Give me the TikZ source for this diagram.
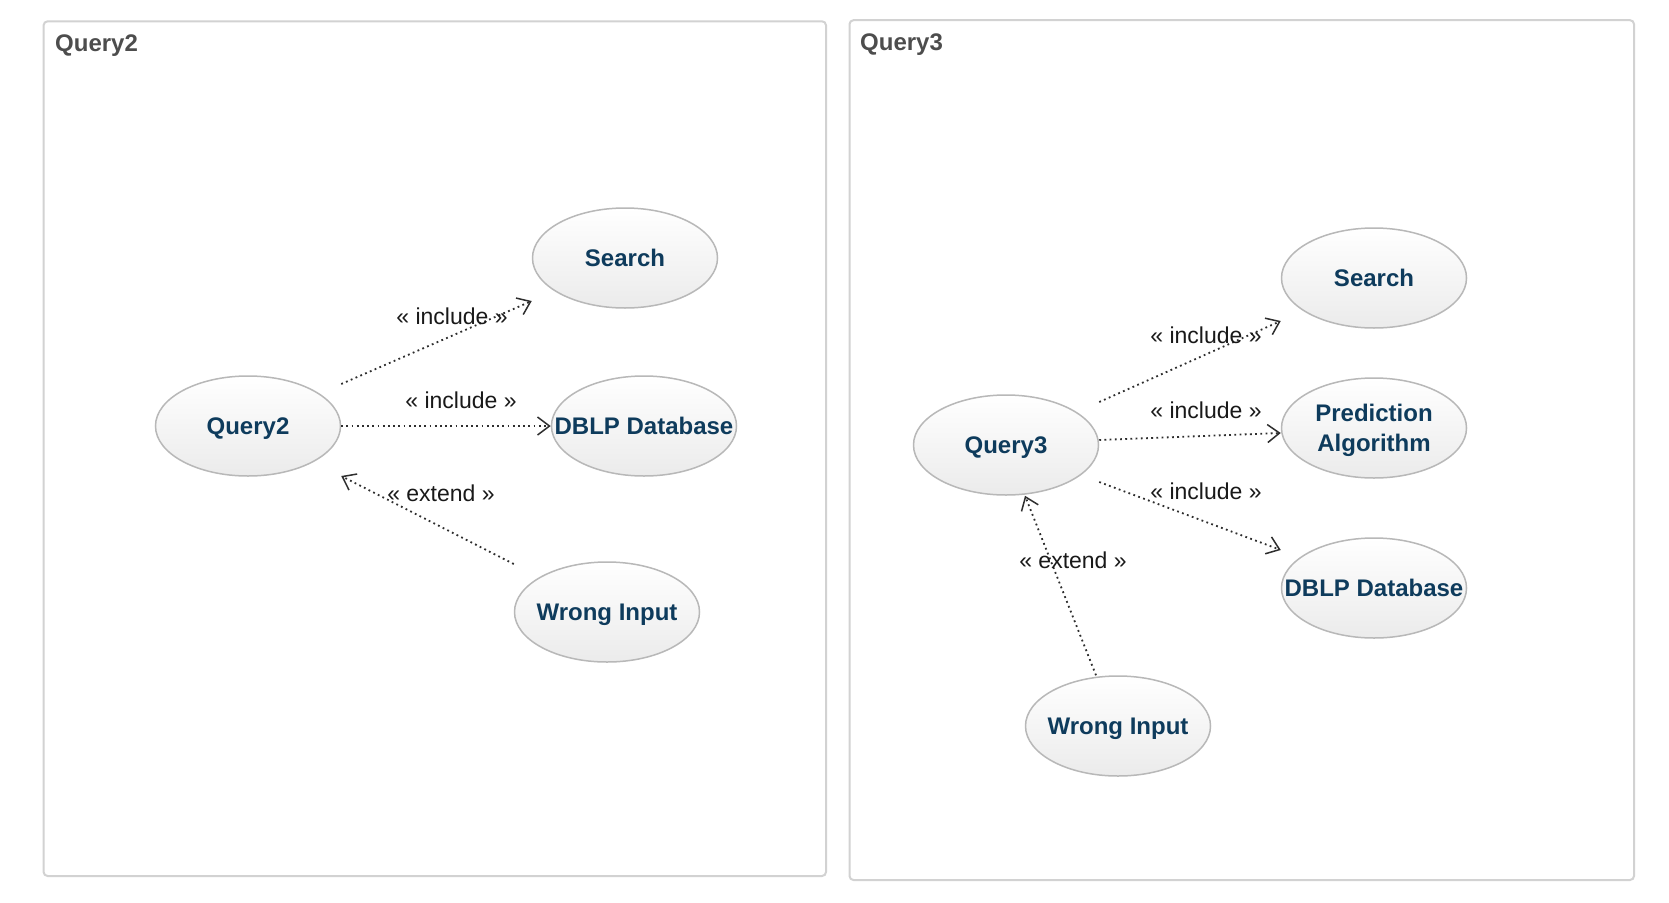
\documentclass[tikz,border=0pt]{standalone}
\usepackage{fontspec}
\setmainfont{Liberation Sans}
\usetikzlibrary{shapes.geometric,arrows.meta,calc}
\definecolor{ucnavy}{HTML}{0E3B5C}
\definecolor{ucborder}{HTML}{B8B8B8}
\definecolor{ucbottom}{HTML}{EBEBEB}
\definecolor{framegray}{HTML}{D2D2D2}
\definecolor{titlegray}{HTML}{4D4D4D}
\definecolor{depgray}{HTML}{2E2E2E}
\begin{document}
\begin{tikzpicture}[x=1pt,y=-1pt,
  frame/.style={draw=framegray,line width=2pt,rounded corners=4pt},
  titletext/.style={anchor=base west,inner sep=0pt,text=titlegray,font=\fontsize{24}{28}\selectfont\bfseries},
  uc/.style={ellipse,draw=ucborder,line width=1.5pt,top color=white,bottom color=ucbottom,minimum width=185pt,minimum height=100pt,inner sep=0pt},
  uctext/.style={anchor=base,inner sep=0pt,text=ucnavy,align=center,font=\fontsize{24}{30}\selectfont\bfseries},
  lbl/.style={inner sep=0pt,text=black!90,font=\fontsize{23}{27}\selectfont},
  dep/.style={draw=depgray,line width=1.8pt,dash pattern=on 1.8pt off 3.4pt,-{Straight Barb[length=12pt,width=18pt,line width=1.5pt]}}
]
\useasboundingbox[fill=white] (0,0) rectangle (1669,902);

% frames
\draw[frame] (43.6,21.3) rectangle (826,876);
\draw[frame] (849.5,20.2) rectangle (1634,880);
\node[titletext] (t2) at (55,51.7) {Query2};
\node[titletext] (t3) at (860,50.7) {Query3};

% left diagram
\node[uc] (q2) at (248,426) {};
\node[uc] (s2) at (625,258) {};
\node[uc] (d2) at (644,426) {};
\node[uc] (w2) at (607,612) {};
\node[uctext] (q2t) at ([yshift=-8.6pt]q2.center) {Query2};
\node[uctext] (s2t) at ([yshift=-8.6pt]s2.center) {Search};
\node[uctext] (d2t) at ([yshift=-8.6pt]d2.center) {DBLP Database};
\node[uctext] (w2t) at ([yshift=-8.6pt]w2.center) {Wrong Input};

\draw[dep] ([yshift=42pt]q2.east) -- ([yshift=-43pt]s2.west);
\draw[dep] (q2.east) -- (d2.west);
\draw[dep] ([yshift=48pt]w2.west) -- ([yshift=-50pt]q2.east);
\node[lbl] (l2a) at (452,316) {« include »};
\node[lbl] (l2b) at (461,400) {« include »};
\node[lbl] (l2c) at (441,493) {« extend »};

% right diagram
\node[uc] (q3) at (1006,445) {};
\node[uc] (s3) at (1374,278) {};
\node[uc] (p3) at (1374,428) {};
\node[uc] (d3) at (1374,588) {};
\node[uc] (w3) at (1118,726) {};
\node[uctext] (q3t) at ([yshift=-8.6pt]q3.center) {Query3};
\node[uctext] (s3t) at ([yshift=-8.6pt]s3.center) {Search};
\node[uctext] (p3t) at ([yshift=-23.6pt]p3.center) {Prediction\\Algorithm};
\node[uctext] (d3t) at ([yshift=-8.6pt]d3.center) {DBLP Database};
\node[uctext] (w3t) at ([yshift=-8.6pt]w3.center) {Wrong Input};

\draw[dep] ([yshift=43pt]q3.east) -- ([yshift=-43pt]s3.west);
\draw[dep] ([yshift=5pt]q3.east) -- ([yshift=-5pt]p3.west);
\draw[dep] ([yshift=-37pt]q3.east) -- ([yshift=38pt]d3.west);
\draw[dep] ([xshift=-22pt]w3.north) -- ([xshift=19pt]q3.south);
\node[lbl] (l3a) at (1206,335) {« include »};
\node[lbl] (l3b) at (1206,410) {« include »};
\node[lbl] (l3c) at (1206,491) {« include »};
\node[lbl] (l3d) at (1073,560) {« extend »};
\end{tikzpicture}
\end{document}
